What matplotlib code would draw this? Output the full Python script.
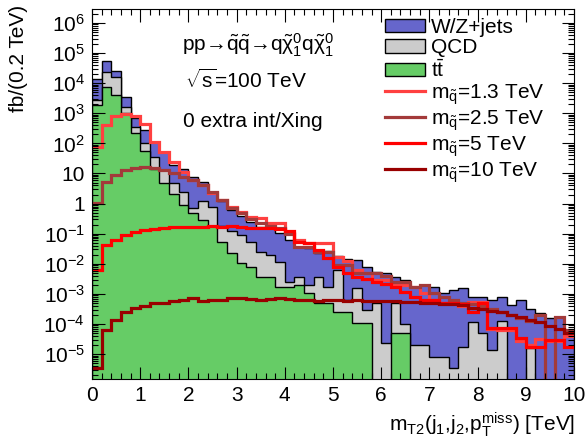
import numpy as np
import matplotlib
matplotlib.use("Agg")
import matplotlib.pyplot as plt
from matplotlib.ticker import LogLocator, MultipleLocator, FuncFormatter, NullFormatter
from matplotlib.patches import Patch
from matplotlib.lines import Line2D

plt.rcParams['font.family'] = ['Liberation Sans', 'DejaVu Sans']
plt.rcParams['mathtext.fontset'] = 'custom'
plt.rcParams['mathtext.rm'] = 'Liberation Sans'
plt.rcParams['mathtext.it'] = 'Liberation Sans'
plt.rcParams['mathtext.sf'] = 'Liberation Sans'
plt.rcParams['mathtext.bf'] = 'Liberation Sans:bold'

# 0.2 TeV bins from 0 to 10 TeV
edges = np.round(np.arange(0, 10.01, 0.2), 2)

# backgrounds, fb per bin
ttbar = [1.9e3, 7.4e3, 4.0e3, 1.0e3, 220, 56, 14, 4.8, 2.1, 0.89,
         0.49, 0.28, 0.18, 0.054, 0.023, 0.011, 7.9e-3, 3.6e-3, 3.6e-3, 1.7e-3,
         1.7e-3, 2.0e-3, 1.1e-3, 5.0e-4, 5.0e-4, 2.5e-4, 2.5e-4, 1.1e-4, 1.1e-4, 0,
         0, 5.0e-5, 5.0e-5, 0, 0, 0, 0, 0, 0, 0,
         0, 0, 0, 0, 0, 0, 0, 0, 0, 0]
qcd = [900, 1.6e4, 1.18e4, 580, 135, 44, 21, 7.8, 2.7, 1.5,
       0.22, 0.98, 0.61, 0.124, 0.10, 0.080, 0.046, 0.021, 0.016, 0.010,
       8e-4, 1.7e-3, 9e-4, 3.2e-3, 1.2e-3, 6.1e-3, 3.8e-4, 1.5e-3, 1.8e-4, 5.0e-4,
       2.3e-5, 4.5e-4, 5e-5, 2.0e-5, 2.0e-5, 8e-6, 8e-6, 3.5e-6, 1.7e-5, 1.2e-4,
       5.0e-5, 1.4e-5, 1.3e-4, 0, 0, 1.6e-5, 0, 0, 0, 0]
wzjets = [1.13e4, 3.3e4, 9.3e3, 1.9e3, 350, 180, 77, 40, 15, 11.6,
          6.9, 3.8, 1.45, 1.08, 0.50, 0.31, 0.19, 0.145, 0.131, 0.093,
          0.060, 0.033, 0.031, 0.019, 0.026, 0.0115, 0.0139, 0.012, 0.0076, 0.0049,
          0.0048, 0.0032, 0.0028, 0.0017, 0.0020, 0.0017, 0.0011, 0.0014, 0.0016, 6.7e-4,
          7.2e-4, 6.3e-4, 6.6e-4, 4.3e-4, 6.3e-4, 2.9e-4, 2.3e-4, 1.6e-4, 1.7e-4, 6.3e-5]

# signals
sig_1p3 = [76, 400, 830, 930, 790, 450, 112, 50, 25, 11.2,
           6.0, 4.0, 2.2, 1.3, 0.79, 0.52, 0.36, 0.33, 0.23, 0.23,
           0.105, 0.063, 0.048, 0.048, 0.048, 0.017, 0.0126, 0.0063, 0.005, 0.0029,
           0.0028, 0.002, 0.002, 0.0017, 0.0011, 6.3e-4, 5e-4, 5e-4, 4e-4, 5.6e-4,
           5.6e-4, 7e-5, 6.3e-5, 6.3e-5, 2.8e-5, 2e-5, 3.2e-5, 2.8e-5, 2.8e-5, 4e-5]
sig_2p5 = [1.05, 5.2, 8.9, 12.6, 15, 16.6, 15, 12.6, 10, 7.6,
           6.0, 4.2, 2.5, 1.3, 0.71, 0.5, 0.32, 0.22, 0.18, 0.16,
           0.1, 0.037, 0.037, 0.025, 0.025, 0.0091, 0.0091, 0.005, 0.005, 0.005,
           0.004, 0.0025, 0.0025, 0.0017, 0.002, 0.0011, 8e-4, 6.3e-4, 5e-4, 4.5e-4,
           4e-4, 3.2e-4, 2.5e-4, 2e-4, 1.6e-4, 1.3e-4, 2e-4, 0, 1.7e-4, 6.3e-5]
sig_5 = [6.3e-3, 0.042, 0.063, 0.091, 0.115, 0.13, 0.148, 0.155, 0.162, 0.166,
         0.17, 0.17, 0.174, 0.17, 0.174, 0.166, 0.158, 0.158, 0.151, 0.141,
         0.126, 0.054, 0.048, 0.029, 0.016, 0.0079, 0.005, 0.0037, 0.0032, 0.0025,
         0.0022, 0.0017, 0.0012, 7.9e-4, 6.3e-4, 6.3e-4, 5e-4, 5e-4, 4.5e-4, 2.5e-4,
         5e-4, 7.4e-5, 7.4e-5, 7.4e-5, 3.4e-5, 1.7e-5, 1.7e-5, 3e-5, 3e-5, 1.7e-5]
sig_10 = [3.5e-6, 6.3e-5, 1.35e-4, 2.5e-4, 3.4e-4, 4e-4, 5e-4, 5.2e-4, 5.8e-4, 6.3e-4,
          7.2e-4, 6e-4, 6.3e-4, 6.3e-4, 7.2e-4, 7.2e-4, 6.8e-4, 6.3e-4, 6.6e-4, 7.1e-4,
          6.6e-4, 6.3e-4, 6.3e-4, 6e-4, 6.3e-4, 6.3e-4, 6e-4, 6.3e-4, 6e-4, 6e-4,
          5.9e-4, 5.8e-4, 5.6e-4, 5.5e-4, 5.2e-4, 5e-4, 4.8e-4, 4.5e-4, 4.2e-4, 3.5e-4,
          3.2e-4, 2.8e-4, 2.5e-4, 2e-4, 1.7e-4, 1.4e-4, 1.2e-4, 8.9e-5, 7.1e-5, 5e-5]

signals = [sig_1p3, sig_2p5, sig_5, sig_10]
sig_labels = [r'm$_{\tilde{q}}$=1.3 TeV', r'm$_{\tilde{q}}$=2.5 TeV',
              r'm$_{\tilde{q}}$=5 TeV', r'm$_{\tilde{q}}$=10 TeV']
sig_colors = ['#ff4040', '#a33a3a', '#ff0000', '#990000']

c_wz, c_qcd, c_tt = '#6666cc', '#cccccc', '#66cc66'
FLOOR = 1e-12


def floor(v):
    v = np.asarray(v, dtype=float)
    return np.where(v > 0, v, FLOOR)


fig = plt.figure(figsize=(5.88, 4.47), dpi=100)
ax = fig.add_axes([92 / 588, 1 - 379 / 447, 482 / 588, 370 / 447])

tt = np.array(ttbar)
tt_qcd = tt + np.array(qcd)
total = tt_qcd + np.array(wzjets)

for top, col in [(total, c_wz), (tt_qcd, c_qcd), (tt, c_tt)]:
    ax.stairs(floor(top), edges, baseline=FLOOR, fill=True,
              facecolor=col, edgecolor='black', linewidth=1.0)

for vals, col in zip(signals, sig_colors):
    ax.stairs(floor(vals), edges, baseline=None, color=col, linewidth=2.3)

ax.set_yscale('log')
ax.set_xlim(0, 10)
ax.set_ylim(1.5e-6, 2.9e6)

ax.xaxis.set_major_locator(MultipleLocator(1))
ax.xaxis.set_minor_locator(MultipleLocator(0.2))
ax.yaxis.set_major_locator(LogLocator(base=10, numticks=30))
ax.yaxis.set_minor_locator(LogLocator(base=10, subs=np.arange(2, 10), numticks=30))
ax.yaxis.set_minor_formatter(NullFormatter())


def ylab(v, pos):
    e = int(round(np.log10(v)))
    if e == 0:
        return '1'
    if e == 1:
        return '10'
    return r'$10^{%d}$' % e


ax.yaxis.set_major_formatter(FuncFormatter(ylab))
ax.tick_params(which='both', direction='in', top=True, right=True, width=0.8)
ax.tick_params(which='major', length=9, labelsize=15, pad=5)
ax.tick_params(which='minor', length=4.5)
ax.set_axisbelow(False)

ax.set_ylabel('fb/(0.2 TeV)', fontsize=15, loc='top')
ax.yaxis.set_label_coords(-0.133, 1.01)
ax.set_xlabel(r'm$_{T2}$(j$_{1}$,j$_{2}$,p$_{T}^{miss}$) [TeV]', fontsize=15, loc='right')
ax.xaxis.set_label_coords(1.002, -0.084)

ax.text(0.187, 0.903, 'pp\u2192' + r'$\tilde{q}\tilde{q}$' + '\u2192' +
        r'q$\tilde{\chi}^{0}_{1}$q$\tilde{\chi}^{0}_{1}$',
        transform=ax.transAxes, fontsize=15, va='center', ha='left')
ax.text(0.193, 0.808, r'$\sqrt{s}$=100 TeV', transform=ax.transAxes,
        fontsize=15, va='center', ha='left')
ax.text(0.189, 0.695, '0 extra int/Xing', transform=ax.transAxes,
        fontsize=15, va='center', ha='left')

handles = [Patch(facecolor=c_wz, edgecolor='black', lw=1.0),
           Patch(facecolor=c_qcd, edgecolor='black', lw=1.0),
           Patch(facecolor=c_tt, edgecolor='black', lw=1.0)]
handles += [Line2D([], [], color=c, lw=2.3) for c in sig_colors]
labels = ['W/Z+jets', 'QCD', r't$\bar{t}$'] + sig_labels
ax.legend(handles, labels, loc='upper left', bbox_to_anchor=(385 / 588, 1 - 18 / 447),
          bbox_transform=fig.transFigure, frameon=False, fontsize=15,
          handlelength=1.9, handleheight=0.62, handletextpad=0.3,
          labelspacing=0.07, borderpad=0, borderaxespad=0)

fig.savefig('out.png', dpi=100)
